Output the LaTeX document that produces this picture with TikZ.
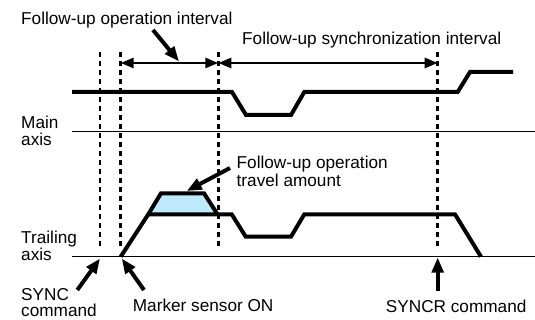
\documentclass[tikz,border=0pt]{standalone}
\usepackage{fontspec}
\setmainfont{Liberation Sans}
\usetikzlibrary{arrows.meta}
\begin{document}
\begin{tikzpicture}[x=1pt,y=-1pt,
  sig/.style={line width=4pt, line join=miter},
  axisline/.style={line width=1.1pt},
  guide/.style={line width=2.6pt, dash pattern=on 5pt off 4pt},
  ptr/.style={line width=4pt,-{Triangle[length=15pt,width=11.5pt]}},
  spanarrow/.style={line width=2.8pt,{Triangle[length=13pt,width=10pt]}-{Triangle[length=13pt,width=10pt]}},
  lbl/.style={inner sep=0pt, anchor=base west, font=\fontsize{17.2}{17.4}\selectfont},
  blueFill/.style={fill=cyan!25!white}
]
\useasboundingbox (0,0) rectangle (535,320);

% guide lines
\foreach \n/\x in {g1/100, g2/120.7, g3/218.3, g4/437.7}{
  \coordinate (\n t) at (\x,52);
  \coordinate (\n b) at (\x,249);
  \draw[guide] (\n t) -- (\n b);
}

% interval arrows
\coordinate (a1) at (120.7,63);
\coordinate (a2) at (218.3,63);
\coordinate (a3) at (437.7,63);
\draw[spanarrow] (a1) -- (a2);
\draw[spanarrow] (a2) -- (a3);

% labels
\node[lbl] (lfoi) at (21,25) {Follow-up operation interval};
\node[lbl] (lfsi) at (242,44.3) {Follow-up synchronization interval};
\node[lbl] (lmain) at (21,128.3) {Main};
\node[lbl] (lmaxis) at (21,145.7) {axis};
\node[lbl] (lfot) at (236.5,168.8) {Follow-up operation};
\node[lbl] (lfot2) at (236.5,186.8) {travel amount};
\node[lbl] (ltrail) at (21,243.3) {Trailing};
\node[lbl] (ltaxis) at (21,261) {axis};
\node[lbl] (lsync) at (21,300.5) {SYNC};
\node[lbl] (lsync2) at (21,316) {command};
\node[lbl] (lmark) at (132.7,311.7) {Marker sensor ON};
\node[lbl] (lsyncr) at (385.7,312.7) {SYNCR command};

% pointer from interval label
\coordinate (p1s) at (153,30);
\coordinate (p1e) at (179,61.5);
\draw[ptr] (p1s) -- (p1e);

% axes baselines
\coordinate (mA) at (72,131.7);
\coordinate (mB) at (535,131.7);
\draw[axisline] (mA) -- (mB);
\coordinate (tA) at (72,256.7);
\coordinate (tB) at (535,256.7);
\draw[axisline] (tA) -- (tB);

% main axis signal
\draw[sig] (72,92) -- (232,92) -- (246,115) -- (291,115) -- (304.3,92)
  -- (457.7,92) -- (470,72) -- (513,72);

% travel amount trapezoid
\coordinate (t1) at (148.3,214.3);
\coordinate (t2) at (161,193.3);
\coordinate (t3) at (204,193.3);
\coordinate (t4) at (217.5,214.3);
\filldraw[sig, blueFill] (t1) -- (t2) -- (t3) -- (t4);

% trailing signal
\draw[sig] (120.7,256.7) -- (t1) -- (231.7,214.3) -- (245.7,236.7) -- (291,236.7)
  -- (304.3,214.3) -- (455,214.3) -- (481,256.7);

% pointer to trapezoid
\coordinate (p2s) at (230,168);
\coordinate (p2e) at (186.7,191);
\draw[ptr] (p2s) -- (p2e);

% bottom pointers
\coordinate (p3s) at (77.3,290);
\coordinate (p3e) at (100,258.5);
\draw[ptr] (p3s) -- (p3e);
\coordinate (p4s) at (144,290);
\coordinate (p4e) at (121.7,258.5);
\draw[ptr] (p4s) -- (p4e);
\coordinate (p5s) at (437.7,290.7);
\coordinate (p5e) at (437.7,257.5);
\draw[ptr] (p5s) -- (p5e);
\end{tikzpicture}
\end{document}
